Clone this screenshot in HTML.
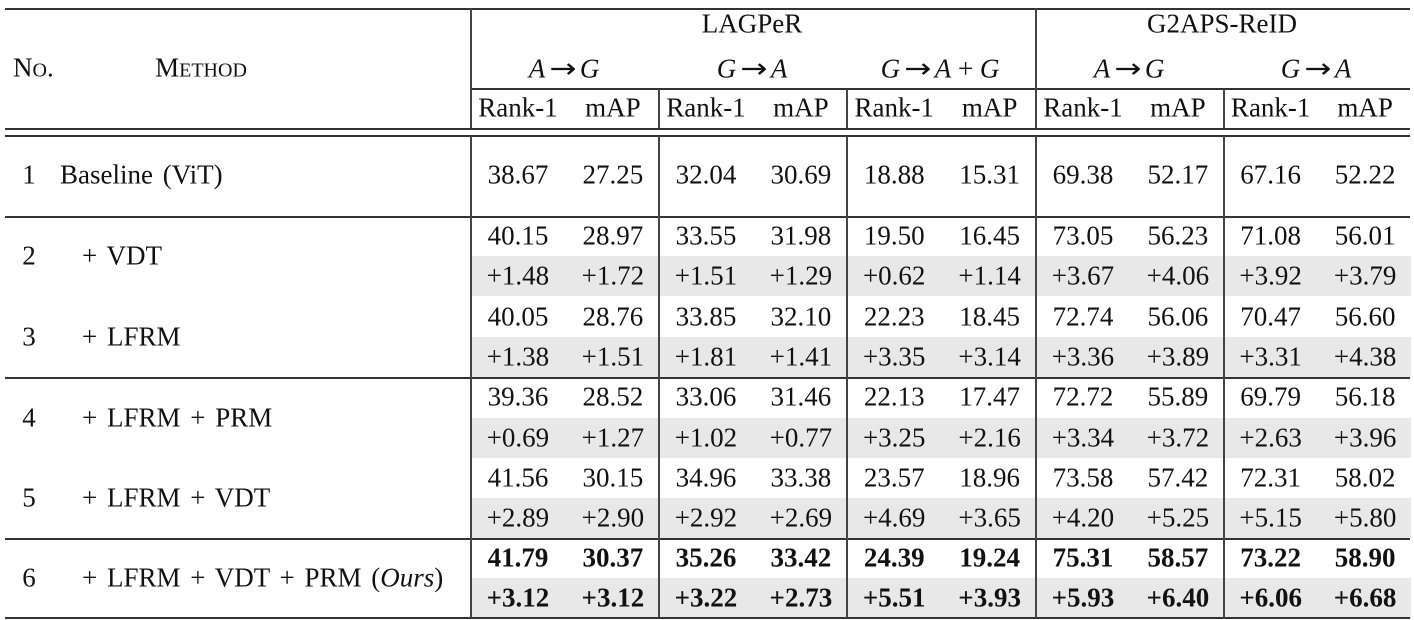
<!DOCTYPE html>
<html><head><meta charset="utf-8"><style>
body{margin:0;background:#fff;width:1414px;height:620px;overflow:hidden;position:relative;font-family:"Liberation Serif","Times New Roman",serif;font-size:27px;color:#111}
.h{position:absolute;height:1.5px;background:#333}
.v{position:absolute;width:1.5px;background:#444}
.g{position:absolute;background:#e8e8e8;left:471px;width:940px;height:40px}
.t{position:absolute;transform:translate(-50%,-50%);white-space:nowrap;line-height:1}
.l{position:absolute;transform:translateY(-50%);white-space:nowrap;line-height:1;word-spacing:3px}
.b{font-weight:bold}
i{font-style:italic}
.ar{font-family:"DejaVu Sans",sans-serif;font-size:27px;display:inline-block;transform:scaleX(1.2);margin:0 6px}
.sc small{font-size:20px}
</style></head><body>
<div class="g" style="top:256px"></div>
<div class="g" style="top:337px"></div>
<div class="g" style="top:418px"></div>
<div class="g" style="top:498px"></div>
<div class="g" style="top:578px"></div>

<div class="h" style="top:8px;left:5px;width:1405px"></div>
<div class="h" style="top:88px;left:470px;width:940px"></div>
<div class="h" style="top:128px;left:5px;width:1405px"></div>
<div class="h" style="top:135px;left:5px;width:1405px"></div>
<div class="h" style="top:216px;left:5px;width:1405px"></div>
<div class="h" style="top:377px;left:5px;width:1405px"></div>
<div class="h" style="top:538px;left:5px;width:1405px"></div>
<div class="h" style="top:617px;left:5px;width:1405px"></div>

<div class="v" style="left:470px;top:8px;height:120px"></div>
<div class="v" style="left:470px;top:136px;height:482px"></div>
<div class="v" style="left:1035px;top:8px;height:120px"></div>
<div class="v" style="left:1035px;top:136px;height:482px"></div>
<div class="v" style="left:658px;top:89px;height:39px"></div>
<div class="v" style="left:658px;top:136px;height:482px"></div>
<div class="v" style="left:846px;top:89px;height:39px"></div>
<div class="v" style="left:846px;top:136px;height:482px"></div>
<div class="v" style="left:1223px;top:89px;height:39px"></div>
<div class="v" style="left:1223px;top:136px;height:482px"></div>

<div class="l sc" style="left:13px;top:68px">N<small>O</small>.</div>
<div class="t sc" style="left:201px;top:68px">M<small>ETHOD</small></div>
<div class="t" style="left:752px;top:24px">LAGPeR</div>
<div class="t" style="left:1222px;top:24px">G2APS-ReID</div>
<div class="t" style="left:564px;top:69px"><i>A</i><span class="ar">→</span><i>G</i></div>
<div class="t" style="left:752px;top:69px"><i>G</i><span class="ar">→</span><i>A</i></div>
<div class="t" style="left:940px;top:69px"><i>G</i><span class="ar">→</span><i>A</i> + <i>G</i></div>
<div class="t" style="left:1129px;top:69px"><i>A</i><span class="ar">→</span><i>G</i></div>
<div class="t" style="left:1316px;top:69px"><i>G</i><span class="ar">→</span><i>A</i></div>

<div id="rows"></div>
<script>
const groups=[470,658,846,1035,1223,1410];
const cx=[];for(let i=0;i<5;i++){const a=groups[i],w=groups[i+1]-a;cx.push(a+w*0.255,a+w*0.76);}
function row(y,vals,bold){let s='';vals.forEach((v,i)=>{s+=`<div class="t${bold?' b':''}" style="left:${cx[i]}px;top:${y}px">${v}</div>`});return s;}
let h='';
h+=row(108,Array(10).fill(0).map((_,i)=>i%2?'mAP':'Rank-1'));
h+=row(175,['38.67','27.25','32.04','30.69','18.88','15.31','69.38','52.17','67.16','52.22']);
const data=[
[236,'40.15 28.97 33.55 31.98 19.50 16.45 73.05 56.23 71.08 56.01'],
[276,'+1.48 +1.72 +1.51 +1.29 +0.62 +1.14 +3.67 +4.06 +3.92 +3.79'],
[317,'40.05 28.76 33.85 32.10 22.23 18.45 72.74 56.06 70.47 56.60'],
[357,'+1.38 +1.51 +1.81 +1.41 +3.35 +3.14 +3.36 +3.89 +3.31 +4.38'],
[397,'39.36 28.52 33.06 31.46 22.13 17.47 72.72 55.89 69.79 56.18'],
[438,'+0.69 +1.27 +1.02 +0.77 +3.25 +2.16 +3.34 +3.72 +2.63 +3.96'],
[478,'41.56 30.15 34.96 33.38 23.57 18.96 73.58 57.42 72.31 58.02'],
[518,'+2.89 +2.90 +2.92 +2.69 +4.69 +3.65 +4.20 +5.25 +5.15 +5.80'],
[558,'41.79 30.37 35.26 33.42 24.39 19.24 75.31 58.57 73.22 58.90',1],
[598,'+3.12 +3.12 +3.22 +2.73 +5.51 +3.93 +5.93 +6.40 +6.06 +6.68',1]];
data.forEach(d=>h+=row(d[0],d[1].split(' '),d[2]));
const lab=[[175,'1','Baseline (ViT)',60],[256,'2','+ VDT',82],[337,'3','+ LFRM',82],[418,'4','+ LFRM + PRM',82],[498,'5','+ LFRM + VDT',82],[578,'6','+ LFRM + VDT + PRM (<i>Ours</i>)',82]];
lab.forEach(l=>{h+=`<div class="t" style="left:29px;top:${l[0]}px">${l[1]}</div><div class="l" style="left:${l[3]}px;top:${l[0]}px">${l[2]}</div>`});
document.getElementById('rows').innerHTML=h;
</script>
</body></html>
